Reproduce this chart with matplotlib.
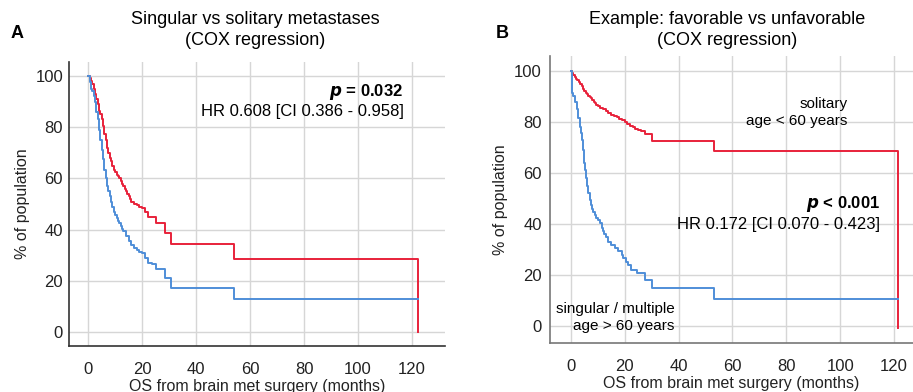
import matplotlib
matplotlib.use("Agg")
import matplotlib.pyplot as plt

plt.rcParams['font.family'] = ['Liberation Sans', 'DejaVu Sans']

# ---- Panel A data: Singular vs solitary (Kaplan-Meier steps) ----
a_red_t = [0, 0.5, 1, 1.5, 2, 2.5, 3, 3.5, 4, 4.5, 5, 5.5, 6, 6.5, 7, 7.5, 8, 8.5, 9, 9.5, 10,
           10.5, 11, 11.5, 12, 12.5, 13, 13.5, 14, 14.5, 15, 15.5, 16, 17, 18, 19, 20, 21, 22,
           25.3, 28.4, 30.6, 54.1, 122.3]
a_red_s = [100, 99, 98, 97, 95, 93, 91, 89, 86.5, 85, 83, 80.5, 77.5, 75, 72, 70, 68, 67, 65, 63.5, 62.5,
           61.5, 60.8, 60, 59, 58, 57, 56, 55, 54, 53, 52, 51, 50, 49.5, 49, 48.4, 47, 45,
           42.5, 38.9, 34.3, 28.6, 0]
a_blue_t = [0, 0.5, 1, 1.5, 2, 2.5, 3, 3.5, 4, 4.5, 5, 5.5, 6, 6.5, 7, 7.5, 8, 8.5, 9, 9.5, 10,
            10.5, 11, 11.5, 12, 12.5, 13, 14, 15, 16, 17, 18, 19, 20, 21, 22, 23.5,
            25.3, 28.4, 30.6, 54.1, 122.3]
a_blue_s = [100, 97.5, 95, 94, 92, 90, 86, 83, 79, 75, 71, 67.5, 63.5, 60, 57, 55, 53, 51, 49, 47, 45.8,
            44.5, 43.3, 42.5, 41.3, 40.3, 39.5, 37.5, 35.8, 34, 33, 32, 31.5, 30.8, 29, 27, 26.5,
            24.7, 21.1, 17.2, 12.9, 12.9]

# ---- Panel B data: favorable vs unfavorable ----
b_red_t = [0, 0.5, 1, 1.5, 2, 2.5, 3, 3.5, 4, 4.5, 5, 5.5, 6, 6.5, 7, 7.5, 8, 8.5, 9, 9.5, 10,
           11, 12, 13, 14, 15, 16, 17, 18, 19, 20, 21, 22, 23, 24, 25, 26, 27.6, 30, 53.3, 121.6]
b_red_s = [100, 99.3, 98.5, 97.8, 97, 96.5, 95.8, 95, 94, 93, 92, 91.3, 90.8, 90.3, 89.8, 89.3, 88.7, 88, 87.3, 86.7, 86.2,
           85.6, 84.9, 84.2, 83.4, 82.9, 82.3, 81.8, 81.3, 80.8, 80, 79.2, 78.6, 78, 77.4, 76.8, 76.3, 75.3, 72.6, 68.6, -1.0]
b_blue_t = [0, 0.4, 1, 1.6, 2.2, 2.8, 3.3, 3.7, 4.1, 4.5, 5, 5.3, 5.7, 6.1, 6.5, 7, 7.5, 8, 8.4, 9, 9.5, 10,
            10.9, 11.5, 12, 12.5, 13, 14, 15, 16.4, 17.5, 18.9, 19.5, 20.5, 21.4, 22.5, 24.5, 27.6, 30, 53.3, 121.6]
b_blue_s = [100, 91.2, 90, 88, 85, 81.4, 78, 75.5, 72.9, 69, 64, 61.1, 58, 55, 52, 49.5, 47.5, 45.8, 44.8, 43.5, 42.3, 41.3,
            40.2, 38.5, 37, 35.8, 34.8, 33, 31.8, 30.4, 29.2, 27.8, 26.5, 25, 23.8, 22, 20.6, 17.9, 14.7, 10.4, 10.4]

xticks = [0, 20, 40, 60, 80, 100, 120]
yticks = [0, 20, 40, 60, 80, 100]

RED = '#e8213a'
BLUE = '#4f8ed8'
GRID = '#d6d6d6'
TICK_FS = 12
LABEL_FS = 11.5
TITLE_FS = 13
ANN_FS = 12

fig = plt.figure(figsize=(9.13, 3.92), dpi=100)

def setup(ax, xlim, ylim, spine_color, ypad, ylabelpad):
    ax.set_xlim(*xlim)
    ax.set_ylim(*ylim)
    ax.set_xticks(xticks)
    ax.set_yticks(yticks)
    ax.grid(True, color=GRID, linewidth=1.0)
    ax.set_axisbelow(True)
    for s in ['top', 'right']:
        ax.spines[s].set_visible(False)
    for s in ['left', 'bottom']:
        ax.spines[s].set_color(spine_color)
        ax.spines[s].set_linewidth(1.2)
    ax.tick_params(length=0, labelsize=TICK_FS, colors='#222222')
    ax.tick_params(axis='y', pad=ypad)
    ax.tick_params(axis='x', pad=12)
    ax.set_xlabel('OS from brain met surgery (months)', fontsize=LABEL_FS, labelpad=1, color='#222222')
    ax.set_ylabel('% of population', fontsize=LABEL_FS, labelpad=ylabelpad, color='#222222')

axA = fig.add_axes([69.3/913, (392-345.7)/392, (445-69.3)/913, (345.7-62.3)/392])
setup(axA, (-7.0, 132.2), (-5.2, 105.3), '#333333', 4.5, 4)
axA.step(a_red_t, a_red_s, where='post', color=RED, lw=1.4)
axA.step(a_blue_t, a_blue_s, where='post', color=BLUE, lw=1.4)
axA.text(116.8, 93.6, r'$\boldsymbol{p}$' + ' = 0.032', ha='right', va='center', fontsize=ANN_FS, fontweight='bold')
axA.text(116.8, 86.1, 'HR 0.608 [CI 0.386 - 0.958]', ha='right', va='center', fontsize=ANN_FS)

axB = fig.add_axes([550/913, (392-342.7)/392, (913-550)/913, (342.7-56)/392])
setup(axB, (-7.7, 127.0), (-6.7, 105.9), '#777777', 6, 4)
axB.step(b_red_t, b_red_s, where='post', color=RED, lw=1.4)
axB.step(b_blue_t, b_blue_s, where='post', color=BLUE, lw=1.4)
axB.text(114.8, 47.8, r'$\boldsymbol{p}$' + ' < 0.001', ha='right', va='center', fontsize=ANN_FS, fontweight='bold')
axB.text(114.8, 39.9, 'HR 0.172 [CI 0.070 - 0.423]', ha='right', va='center', fontsize=ANN_FS)
axB.text(102.8, 83.8, 'solitary\nage < 60 years', ha='right', va='center', multialignment='right', fontsize=11, linespacing=1.25)
axB.text(38.5, 3.2, 'singular / multiple\nage > 60 years', ha='right', va='center', multialignment='right', fontsize=11, linespacing=1.25)

# titles and panel letters
fig.text(255/913, 1-30/392, 'Singular vs solitary metastases\n(COX regression)', ha='center', va='center', fontsize=TITLE_FS, linespacing=1.3)
fig.text(727/913, 1-30/392, 'Example: favorable vs unfavorable\n(COX regression)', ha='center', va='center', fontsize=TITLE_FS, linespacing=1.3)
fig.text(17/913, 1-33/392, 'A', ha='center', va='center', fontsize=13, fontweight='bold')
fig.text(502/913, 1-33/392, 'B', ha='center', va='center', fontsize=13, fontweight='bold')

fig.savefig('out.png', dpi=100)
